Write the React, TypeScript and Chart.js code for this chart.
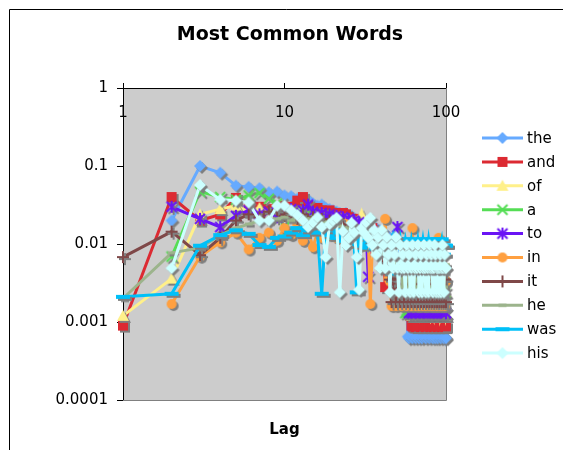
import React, { useEffect, useRef } from "react";
import { Chart, registerables } from "chart.js";

Chart.register(...registerables);

const FONT = "'DejaVu Sans', Verdana, sans-serif";

// Lag values on the x axis
const lags: number[] = Array.from({ length: 100 }, (_, i) => i + 1);

const words = ["the", "and", "of", "a", "to", "in", "it", "he", "was", "his"];
const colors = ["#66AAFF", "#DC2A32", "#FFF08A", "#55DD55", "#6A14F5", "#FFA040", "#7F4848", "#9CB48C", "#00C0F8", "#CCFFFF"];
const shapes = ["diamond", "square", "triangle", "x", "star", "circle", "plus", "dashShort", "dashLong", "diamond"];

const xTicks = [1, 10, 100];
const yTicks = [0.0001, 0.001, 0.01, 0.1, 1];

// Relative frequency for each word, lag 1..100
const theVals = [
  null, 0.020, 0.10, 0.082, 0.056, 0.054, 0.052, 0.046, 0.047, 0.042,
  0.041, 0.038, 0.036, 0.037, 0.033, 0.031, 0.032, 0.029, 0.028, 0.027,
  0.026, 0.025, 0.024, 0.025, 0.022, 0.023, 0.021, 0.020, 0.021, 0.019,
  0.018, 0.019, 0.017, 0.016, 0.017, 0.015, 0.016, 0.014, 0.015, 0.013,
  0.014, 0.012, 0.013, 0.011, 0.012, 0.010, 0.011, 0.0095, 0.010, 0.0090,
  0.0085, 0.0090, 0.0078, 0.0072, 0.0060, 0.0045, 0.0022, 0.00065, 0.00062, 0.00064,
  0.00064, 0.00062, 0.00066, 0.00064, 0.00062, 0.00064, 0.00066, 0.00062, 0.00064, 0.00064,
  0.00062, 0.00064, 0.00066, 0.00064, 0.00062, 0.00064, 0.00064, 0.00066, 0.00062, 0.00064,
  0.00064, 0.00066, 0.00062, 0.00064, 0.00064, 0.00062, 0.00066, 0.00064, 0.00062, 0.00064,
  0.00066, 0.00064, 0.00062, 0.00064, 0.00064, 0.00066, 0.00062, 0.00064, 0.00064, 0.00062,
];
const andVals = [
  0.0009, 0.040, 0.020, 0.024, 0.039, 0.033, 0.030, 0.028, 0.031, 0.027,
  0.030, 0.036, 0.040, 0.031, 0.028, 0.029, 0.027, 0.026, 0.027, 0.025,
  0.025, 0.024, 0.025, 0.024, 0.022, 0.021, 0.020, 0.021, 0.019, 0.018,
  0.017, 0.018, 0.016, 0.015, 0.016, 0.014, 0.013, 0.014, 0.012, 0.013,
  0.011, 0.0028, 0.011, 0.010, 0.0098, 0.0092, 0.0088, 0.0090, 0.0082, 0.0080,
  0.0075, 0.0078, 0.0070, 0.0066, 0.0060, 0.0052, 0.0040, 0.0030, 0.0018, 0.0012,
  0.00090, 0.00088, 0.00088, 0.00090, 0.00086, 0.00088, 0.00088, 0.00090, 0.00088, 0.00086,
  0.00088, 0.00090, 0.00088, 0.00088, 0.00086, 0.00088, 0.00090, 0.00088, 0.00088, 0.00086,
  0.00088, 0.00088, 0.00090, 0.00086, 0.00088, 0.00088, 0.00090, 0.00088, 0.00086, 0.00088,
  0.00090, 0.00088, 0.00088, 0.00086, 0.00088, 0.00090, 0.00088, 0.00088, 0.00086, 0.00088,
];
const ofVals = [
  0.0012, 0.0036, 0.024, 0.028, 0.031, 0.026, 0.029, 0.025, 0.027, 0.024,
  0.026, 0.023, 0.025, 0.022, 0.024, 0.021, 0.023, 0.020, 0.022, 0.021,
  0.020, 0.022, 0.019, 0.021, 0.018, 0.020, 0.017, 0.019, 0.018, 0.024,
  0.016, 0.017, 0.015, 0.016, 0.014, 0.015, 0.013, 0.014, 0.012, 0.013,
  0.011, 0.012, 0.010, 0.0098, 0.0092, 0.0085, 0.0078, 0.0072, 0.0066, 0.0060,
  0.0055, 0.0049, 0.0045, 0.0040, 0.0036, 0.0030, 0.0025, 0.0024, 0.0018, 0.0013,
  0.0012, 0.0013, 0.0012, 0.0024, 0.0012, 0.0013, 0.0012, 0.0012, 0.0024, 0.0012,
  0.0013, 0.0012, 0.0012, 0.0013, 0.0024, 0.0012, 0.0012, 0.0013, 0.0012, 0.0024,
  0.0012, 0.0013, 0.0012, 0.0012, 0.0013, 0.0024, 0.0012, 0.0012, 0.0013, 0.0012,
  0.0012, 0.0024, 0.0012, 0.0013, 0.0012, 0.0012, 0.0013, 0.0012, 0.0024, 0.0012,
];
const aVals = [
  null, 0.0069, 0.047, 0.040, 0.037, 0.042, 0.045, 0.038, 0.033, 0.014,
  0.025, 0.022, 0.024, 0.020, 0.023, 0.019, 0.021, 0.018, 0.020, 0.017,
  0.019, 0.016, 0.018, 0.015, 0.017, 0.014, 0.016, 0.013, 0.015, 0.012,
  0.014, 0.012, 0.013, 0.011, 0.012, 0.010, 0.011, 0.0095, 0.010, 0.0090,
  0.0085, 0.0090, 0.0080, 0.0075, 0.0070, 0.0065, 0.0060, 0.0052, 0.0045, 0.0040,
  0.0036, 0.0030, 0.0025, 0.0024, 0.0018, 0.0013, 0.0014, 0.0013, 0.0024, 0.0013,
  0.0013, 0.0024, 0.0013, 0.0013, 0.0018, 0.0013, 0.0024, 0.0013, 0.0013, 0.0018,
  0.0013, 0.0013, 0.0024, 0.0013, 0.0018, 0.0013, 0.0013, 0.0024, 0.0013, 0.0013,
  0.0018, 0.0013, 0.0024, 0.0013, 0.0013, 0.0018, 0.0013, 0.0024, 0.0013, 0.0013,
  0.0013, 0.0018, 0.0013, 0.0024, 0.0013, 0.0013, 0.0018, 0.0013, 0.0024, 0.0013,
];
const toVals = [
  null, 0.030, 0.021, 0.0165, 0.023, 0.027, 0.024, 0.026, 0.022, 0.025,
  0.028, 0.024, 0.027, 0.032, 0.026, 0.023, 0.025, 0.022, 0.024, 0.021,
  0.023, 0.020, 0.022, 0.019, 0.021, 0.018, 0.020, 0.017, 0.019, 0.016,
  0.018, 0.015, 0.0038, 0.015, 0.014, 0.013, 0.014, 0.012, 0.013, 0.011,
  0.012, 0.010, 0.011, 0.0095, 0.010, 0.0090, 0.0085, 0.0080, 0.0090, 0.0165,
  0.0080, 0.0065, 0.0055, 0.0045, 0.0036, 0.0028, 0.0024, 0.0018, 0.0013, 0.0024,
  0.0013, 0.0013, 0.0024, 0.0013, 0.0013, 0.0013, 0.0024, 0.0013, 0.0013, 0.0013,
  0.0024, 0.0013, 0.0013, 0.0013, 0.0024, 0.0013, 0.0013, 0.0013, 0.0013, 0.0024,
  0.0013, 0.0013, 0.0024, 0.0013, 0.0013, 0.0013, 0.0024, 0.0013, 0.0013, 0.0013,
  0.0013, 0.0024, 0.0013, 0.0013, 0.0013, 0.0024, 0.0013, 0.0013, 0.0013, 0.0013,
];
const inVals = [
  null, 0.0017, 0.0069, 0.0105, 0.014, 0.0085, 0.012, 0.014, 0.011, 0.016,
  0.013, 0.018, 0.011, 0.015, 0.0091, 0.014, 0.012, 0.017, 0.013, 0.016,
  0.012, 0.015, 0.011, 0.018, 0.013, 0.016, 0.012, 0.014, 0.0095, 0.013,
  0.011, 0.014, 0.012, 0.0017, 0.010, 0.013, 0.0095, 0.012, 0.010, 0.011,
  0.0095, 0.021, 0.0085, 0.0036, 0.0033, 0.0016, 0.0033, 0.0036, 0.0016, 0.0033,
  0.0036, 0.0033, 0.0016, 0.0033, 0.0036, 0.0033, 0.0016, 0.0033, 0.0036, 0.0033,
  0.0016, 0.016, 0.0033, 0.0036, 0.0016, 0.0033, 0.0033, 0.0016, 0.0036, 0.0033,
  0.0033, 0.0016, 0.0036, 0.0033, 0.0016, 0.0033, 0.0036, 0.0033, 0.0016, 0.0033,
  0.0036, 0.0016, 0.0033, 0.0033, 0.0016, 0.0036, 0.0033, 0.0016, 0.0033, 0.012,
  0.0033, 0.0016, 0.0036, 0.0033, 0.0016, 0.0033, 0.0036, 0.0016, 0.0033, 0.0033,
];
const itVals = [
  0.0068, 0.0144, 0.0072, 0.012, 0.020, 0.024, 0.022, 0.026, 0.027, 0.023,
  0.025, 0.021, 0.024, 0.020, 0.022, 0.019, 0.021, 0.018, 0.020, 0.017,
  0.019, 0.016, 0.018, 0.015, 0.016, 0.014, 0.015, 0.013, 0.014, 0.012,
  0.013, 0.011, 0.012, 0.010, 0.011, 0.0095, 0.010, 0.0085, 0.0090, 0.0080,
  0.0070, 0.0060, 0.0050, 0.0042, 0.0035, 0.0018, 0.0035, 0.0036, 0.0018, 0.0035,
  0.0035, 0.0018, 0.0036, 0.0035, 0.0018, 0.0035, 0.0035, 0.0018, 0.0036, 0.0035,
  0.0018, 0.0035, 0.0035, 0.0018, 0.0036, 0.0035, 0.0018, 0.0035, 0.0035, 0.0018,
  0.0036, 0.0035, 0.0018, 0.0035, 0.0035, 0.0018, 0.0036, 0.0035, 0.0018, 0.0035,
  0.0035, 0.0018, 0.0036, 0.0035, 0.0018, 0.0035, 0.0035, 0.0018, 0.0036, 0.0035,
  0.0018, 0.0035, 0.0035, 0.0018, 0.0036, 0.0035, 0.0018, 0.0035, 0.0035, 0.0018,
];
const heVals = [
  0.0020, 0.0077, 0.0089, 0.013, 0.016, 0.018, 0.020, 0.019, 0.021, 0.022,
  0.020, 0.023, 0.019, 0.021, 0.018, 0.020, 0.017, 0.019, 0.016, 0.018,
  0.015, 0.017, 0.014, 0.016, 0.013, 0.015, 0.012, 0.014, 0.011, 0.013,
  0.011, 0.012, 0.010, 0.011, 0.0092, 0.010, 0.0085, 0.0090, 0.0078, 0.0085,
  0.0073, 0.0078, 0.0068, 0.0073, 0.0063, 0.0068, 0.0058, 0.0063, 0.0054, 0.0058,
  0.0054, 0.0043, 0.0054, 0.0028, 0.0054, 0.0043, 0.0054, 0.0054, 0.0028, 0.0043,
  0.0054, 0.0054, 0.0043, 0.0028, 0.0054, 0.0043, 0.0054, 0.0054, 0.0028, 0.0054,
  0.0043, 0.0054, 0.0028, 0.0054, 0.0043, 0.0054, 0.0054, 0.0028, 0.0043, 0.0054,
  0.0054, 0.0043, 0.0028, 0.0054, 0.0054, 0.0043, 0.0028, 0.0054, 0.0054, 0.0043,
  0.0054, 0.0028, 0.0054, 0.0043, 0.0054, 0.0054, 0.0028, 0.0043, 0.0054, 0.0054,
];
const wasVals = [
  0.0021, 0.0023, 0.0095, 0.013, 0.015, 0.0135, 0.0097, 0.0092, 0.012, 0.0125,
  0.014, 0.016, 0.013, 0.015, 0.017, 0.014, 0.0023, 0.016, 0.013, 0.015,
  0.012, 0.014, 0.011, 0.013, 0.010, 0.012, 0.0098, 0.0024, 0.011, 0.0095,
  0.010, 0.012, 0.0090, 0.011, 0.0095, 0.010, 0.0088, 0.011, 0.0115, 0.0095,
  0.010, 0.0115, 0.0092, 0.0115, 0.0098, 0.0115, 0.0042, 0.0115, 0.0095, 0.0115,
  0.0095, 0.0115, 0.0073, 0.0095, 0.0095, 0.0115, 0.0095, 0.0073, 0.0095, 0.0095,
  0.0115, 0.0095, 0.0095, 0.0073, 0.0095, 0.0095, 0.0115, 0.0095, 0.0042, 0.0095,
  0.0095, 0.0115, 0.0095, 0.0095, 0.0073, 0.0095, 0.0095, 0.0115, 0.0095, 0.0073,
  0.0095, 0.0095, 0.0115, 0.0095, 0.0073, 0.0095, 0.0095, 0.0095, 0.0115, 0.0095,
  0.0073, 0.0095, 0.0095, 0.0115, 0.0095, 0.0095, 0.0073, 0.0095, 0.0095, 0.0095,
];
const hisVals = [
  null, 0.0049, 0.057, 0.037, 0.036, 0.034, 0.020, 0.020, 0.031, 0.031,
  0.027, 0.0235, 0.020, 0.0165, 0.019, 0.022, 0.0165, 0.0068, 0.018, 0.020,
  0.0216, 0.0024, 0.0145, 0.0097, 0.012, 0.0186, 0.014, 0.0068, 0.0026, 0.016,
  0.014, 0.019, 0.012, 0.0216, 0.0097, 0.015, 0.0073, 0.0122, 0.0049, 0.015,
  0.0097, 0.0049, 0.0122, 0.0073, 0.0024, 0.0097, 0.0049, 0.0073, 0.0122, 0.0049,
  0.0024, 0.0097, 0.0049, 0.0073, 0.0049, 0.0024, 0.0097, 0.0049, 0.0073, 0.0024,
  0.0049, 0.0097, 0.0024, 0.0049, 0.0073, 0.0049, 0.0097, 0.0024, 0.0049, 0.0073,
  0.0024, 0.0049, 0.0097, 0.0049, 0.0024, 0.0073, 0.0049, 0.0024, 0.0097, 0.0049,
  0.0073, 0.0049, 0.0024, 0.0049, 0.0097, 0.0073, 0.0024, 0.0049, 0.0049, 0.0024,
  0.0049, 0.0073, 0.0024, 0.0049, 0.0097, 0.0049, 0.0024, 0.0073, 0.0049, 0.0049,
];

const seriesValues = [theVals, andVals, ofVals, aVals, toVals, inVals, itVals, heVals, wasVals, hisVals];

function paintShape(ctx: CanvasRenderingContext2D, shape: string, color: string, x: number, y: number) {
  ctx.fillStyle = color;
  ctx.strokeStyle = color;
  ctx.lineWidth = 2;
  ctx.beginPath();
  switch (shape) {
    case "diamond":
      ctx.moveTo(x - 6, y);
      ctx.lineTo(x, y - 6);
      ctx.lineTo(x + 6, y);
      ctx.lineTo(x, y + 6);
      ctx.closePath();
      ctx.fill();
      break;
    case "square":
      ctx.fillRect(x - 5, y - 5, 10, 10);
      break;
    case "triangle":
      ctx.moveTo(x, y - 6);
      ctx.lineTo(x + 6, y + 5);
      ctx.lineTo(x - 6, y + 5);
      ctx.closePath();
      ctx.fill();
      break;
    case "x":
      ctx.moveTo(x - 5, y - 5);
      ctx.lineTo(x + 5, y + 5);
      ctx.moveTo(x + 5, y - 5);
      ctx.lineTo(x - 5, y + 5);
      ctx.stroke();
      break;
    case "star":
      ctx.moveTo(x - 5, y - 5);
      ctx.lineTo(x + 5, y + 5);
      ctx.moveTo(x + 5, y - 5);
      ctx.lineTo(x - 5, y + 5);
      ctx.moveTo(x, y - 6);
      ctx.lineTo(x, y + 6);
      ctx.stroke();
      break;
    case "circle":
      ctx.arc(x, y, 5, 0, Math.PI * 2);
      ctx.fill();
      break;
    case "plus":
      ctx.moveTo(x - 6, y);
      ctx.lineTo(x + 6, y);
      ctx.moveTo(x, y - 6);
      ctx.lineTo(x, y + 6);
      ctx.stroke();
      break;
    case "dashShort":
      ctx.fillRect(x - 4, y - 1.5, 8, 3);
      break;
    case "dashLong":
      ctx.fillRect(x - 7, y - 2, 14, 4);
      break;
  }
}

function makeMarker(shape: string, color: string, shadow: boolean): HTMLCanvasElement {
  const c = document.createElement("canvas");
  c.width = 20;
  c.height = 20;
  const ctx = c.getContext("2d") as CanvasRenderingContext2D;
  if (shadow) paintShape(ctx, shape, "#7F7F7F", 12, 12);
  paintShape(ctx, shape, color, 10, 10);
  return c;
}

export default function App() {
  const canvasRef = useRef<HTMLCanvasElement | null>(null);

  useEffect(() => {
    const canvas = canvasRef.current;
    if (!canvas) return;

    const plotMarkers = shapes.map((s, i) => makeMarker(s, colors[i], true));
    const legendMarkers = shapes.map((s, i) => makeMarker(s, colors[i], false));

    const datasets = words.map((w, i) => ({
      label: w,
      data: lags.map((x, j) => ({ x, y: seriesValues[i][j] })),
      borderColor: colors[i],
      backgroundColor: colors[i],
      borderWidth: 3,
      pointStyle: plotMarkers[i],
      pointRadius: 5,
      tension: 0,
      spanGaps: false,
      clip: false as any,
      order: words.length - i,
    }));

    const decor = {
      id: "decor",
      beforeDraw(chart: any) {
        const { ctx, chartArea: a } = chart;
        ctx.save();
        ctx.fillStyle = "#FFFFFF";
        ctx.fillRect(0, 0, chart.width, chart.height);
        // chart area frame
        ctx.strokeStyle = "#000000";
        ctx.lineWidth = 1;
        ctx.beginPath();
        ctx.moveTo(9.5, chart.height);
        ctx.lineTo(9.5, 9.5);
        ctx.lineTo(chart.width, 9.5);
        ctx.stroke();
        // plot background
        ctx.fillStyle = "#CCCCCC";
        ctx.fillRect(a.left, a.top, a.right - a.left, a.bottom - a.top);
        ctx.restore();
      },
      beforeDatasetsDraw(chart: any) {
        const { ctx, chartArea: a } = chart;
        ctx.save();
        ctx.strokeStyle = "#808080";
        ctx.lineWidth = 1;
        ctx.beginPath();
        ctx.moveTo(a.right + 0.5, a.top);
        ctx.lineTo(a.right + 0.5, a.bottom + 0.5);
        ctx.lineTo(a.left, a.bottom + 0.5);
        ctx.stroke();
        ctx.restore();
      },
      afterDraw(chart: any) {
        const { ctx, chartArea: a } = chart;
        const xs = chart.scales.x;
        ctx.save();
        ctx.fillStyle = "#000000";
        // title
        ctx.font = `bold 19px ${FONT}`;
        ctx.textAlign = "center";
        ctx.textBaseline = "middle";
        ctx.fillText("Most Common Words", 290, 35);
        // x axis title
        ctx.font = `bold 15px ${FONT}`;
        ctx.fillText("Lag", (a.left + a.right) / 2, 430);
        // x tick labels, drawn just under the axis line
        ctx.font = `15px ${FONT}`;
        xTicks.forEach((v) => {
          ctx.fillText(String(v), xs.getPixelForValue(v), a.top + 25);
        });
        // legend
        words.forEach((w, i) => {
          const y = 138 + i * 23.9;
          ctx.strokeStyle = colors[i];
          ctx.lineWidth = 3;
          ctx.beginPath();
          ctx.moveTo(482, y);
          ctx.lineTo(523, y);
          ctx.stroke();
          ctx.drawImage(legendMarkers[i], 502.5 - 10, y - 10);
          ctx.fillStyle = "#000000";
          ctx.textAlign = "left";
          ctx.fillText(w, 527, y + 1);
        });
        ctx.restore();
      },
    };

    const chart = new Chart(canvas, {
      type: "line",
      data: { datasets: datasets as any },
      options: {
        responsive: false,
        animation: false,
        events: [],
        layout: { padding: { left: 0, top: 0, right: 117, bottom: 50 } },
        plugins: {
          legend: { display: false },
          title: { display: false },
          tooltip: { enabled: false },
        },
        scales: {
          x: {
            type: "logarithmic",
            position: "top",
            min: 1,
            max: 100,
            afterBuildTicks: (axis: any) => {
              axis.ticks = xTicks.map((v) => ({ value: v }));
            },
            afterFit: (axis: any) => {
              axis.height = 88;
            },
            ticks: { display: false },
            grid: { drawOnChartArea: false, drawTicks: true, tickLength: 5, color: "#000000" },
            border: { display: true, color: "#000000", width: 1 },
          },
          y: {
            type: "logarithmic",
            position: "left",
            min: 0.0001,
            max: 1,
            afterBuildTicks: (axis: any) => {
              axis.ticks = yTicks.map((v) => ({ value: v }));
            },
            afterFit: (axis: any) => {
              axis.width = 123;
            },
            ticks: {
              color: "#000000",
              font: { family: FONT, size: 15 },
              padding: 9,
              callback: (v: any) => String(v),
            },
            grid: { drawOnChartArea: false, drawTicks: true, tickLength: 6, color: "#000000" },
            border: { display: true, color: "#000000", width: 1 },
          },
        },
      },
      plugins: [decor],
    });

    return () => chart.destroy();
  }, []);

  return (
    <canvas
      ref={canvasRef}
      width={563}
      height={450}
      style={{ position: "fixed", left: 0, top: 0, width: 563, height: 450, display: "block" }}
    />
  );
}
